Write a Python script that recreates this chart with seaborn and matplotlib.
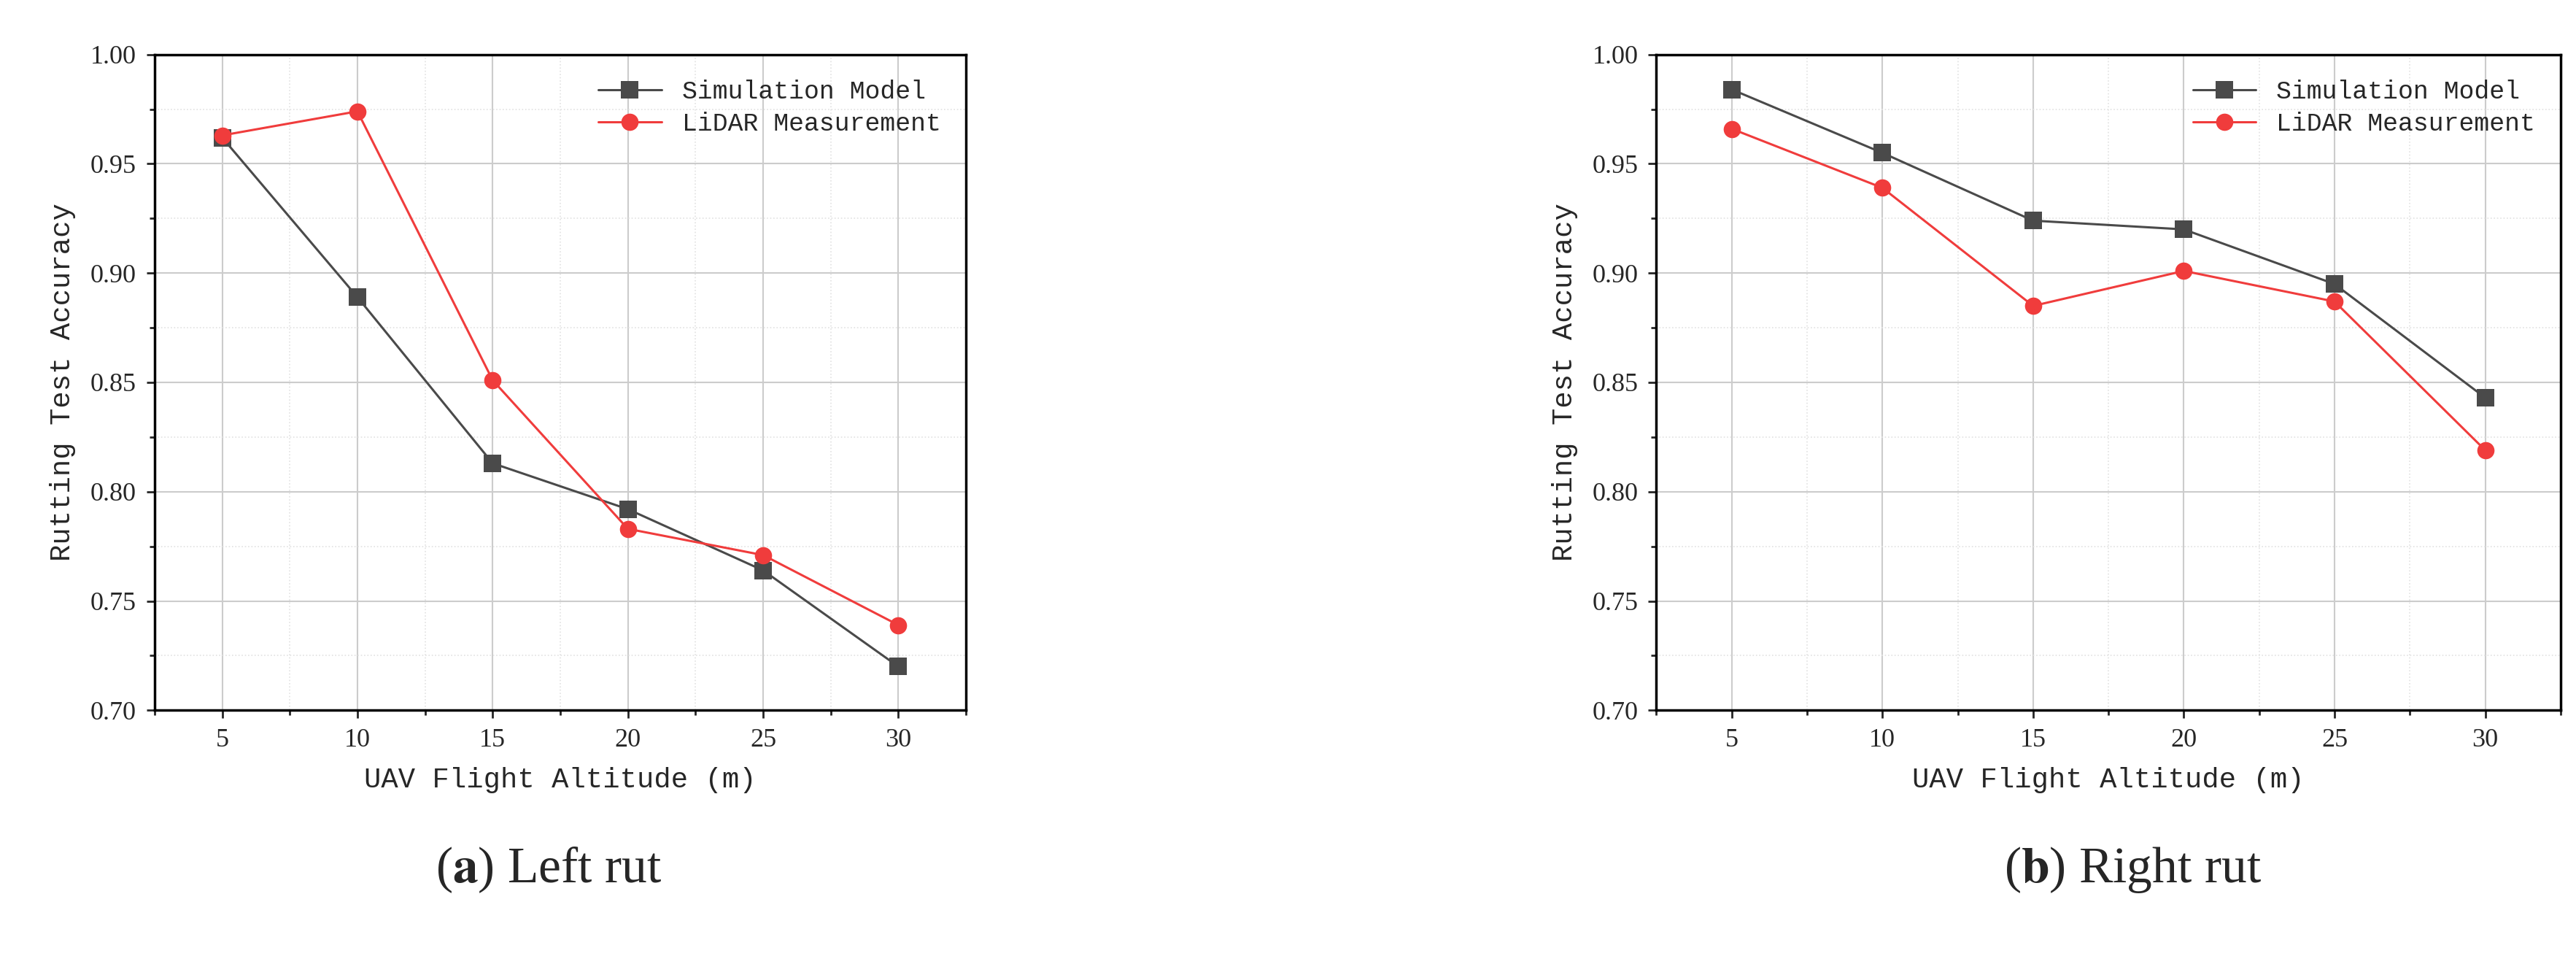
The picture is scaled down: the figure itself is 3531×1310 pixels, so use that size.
import matplotlib
matplotlib.use("Agg")
import matplotlib.pyplot as plt
import seaborn as sns
import pandas as pd
from matplotlib.ticker import MultipleLocator

altitude = [5, 10, 15, 20, 25, 30]
left_sim = [0.962, 0.889, 0.813, 0.792, 0.764, 0.720]
left_lidar = [0.963, 0.974, 0.851, 0.783, 0.771, 0.739]
right_sim = [0.984, 0.955, 0.924, 0.920, 0.895, 0.843]
right_lidar = [0.966, 0.939, 0.885, 0.901, 0.887, 0.819]
series_names = ["Simulation Model", "LiDAR Measurement"]
y_ticks = [0.70, 0.75, 0.80, 0.85, 0.90, 0.95, 1.00]
captions = [("a", " Left rut"), ("b", " Right rut")]

sns.set_style("white")
mono = ["Liberation Mono", "DejaVu Sans Mono"]
serif = ["Liberation Serif", "DejaVu Serif"]

fig = plt.figure(figsize=(35.31, 13.10), dpi=100)
axes = [fig.add_axes([0.060, 0.257, 0.315, 0.686]),
        fig.add_axes([0.643, 0.257, 0.351, 0.686])]

palette = {"Simulation Model": "#4a4a4a", "LiDAR Measurement": "#f03c3c"}
markers = {"Simulation Model": "s", "LiDAR Measurement": "o"}

for ax, sim, lid in zip(axes, [left_sim, right_sim], [left_lidar, right_lidar]):
    df = pd.DataFrame({
        "alt": altitude * 2,
        "acc": sim + lid,
        "series": [series_names[0]] * 6 + [series_names[1]] * 6,
    })
    sns.lineplot(data=df, x="alt", y="acc", hue="series", style="series",
                 markers=markers, dashes=False, palette=palette, ax=ax,
                 markersize=17, linewidth=2.2, markeredgewidth=0)
    ax.set_xlim(2.5, 32.5)
    ax.set_ylim(0.70, 1.00)
    ax.set_xticks(altitude)
    ax.set_yticks(y_ticks)
    ax.set_yticklabels([f"{v:.2f}" for v in y_ticks])
    ax.xaxis.set_minor_locator(MultipleLocator(2.5))
    ax.yaxis.set_minor_locator(MultipleLocator(0.025))
    ax.grid(which="major", color="#cccccc", linewidth=1.5)
    ax.grid(which="minor", color="#e2e2e2", linewidth=1.2, linestyle=":")
    ax.set_axisbelow(True)
    for s in ax.spines.values():
        s.set_linewidth(2.5)
        s.set_color("black")
    ax.tick_params(which="major", direction="out", length=8, width=2, labelsize=26,
                   bottom=True, left=True, pad=10)
    ax.tick_params(which="minor", direction="out", length=5, width=2,
                   bottom=True, left=True)
    for lab in ax.get_xticklabels() + ax.get_yticklabels():
        lab.set_fontfamily(serif)
    ax.set_xlabel("UAV Flight Altitude (m)", fontsize=28, family=mono, labelpad=14)
    ax.set_ylabel("Rutting Test Accuracy", fontsize=28, family=mono, labelpad=14)
    ax.legend(loc="upper right", frameon=False, prop={"family": mono, "size": 25},
              handlelength=2.5, borderaxespad=0.6, labelspacing=0.3)

for (letter, rest), xc in zip(captions, [0.213, 0.828]):
    fig.text(xc, 0.09, "(" + r"$\bf{" + letter + "}$" + ")" + rest,
             ha="center", va="center", fontsize=50, family=serif,
             math_fontfamily="stix")

fig.savefig("out.png", dpi=100, facecolor="white")
